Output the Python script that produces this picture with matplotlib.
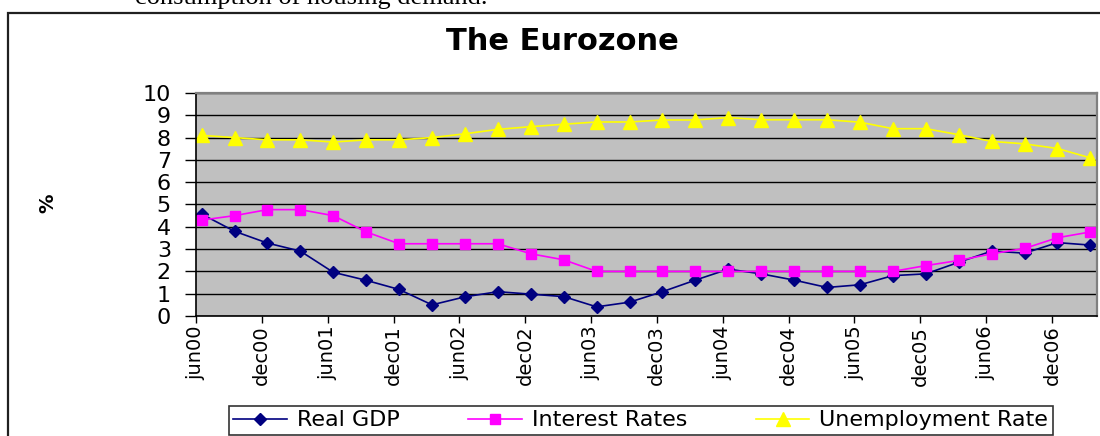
import matplotlib.pyplot as plt
import matplotlib.patches as mpatches
import numpy as np

# quarterly observations, jun00 .. mar07
real_gdp = [4.57, 3.8, 3.27, 2.91, 1.96, 1.6, 1.19, 0.5,
            0.86, 1.09, 0.98, 0.87, 0.41, 0.62, 1.09, 1.61,
            2.1, 1.89, 1.61, 1.28, 1.4, 1.81, 1.89, 2.41,
            2.91, 2.82, 3.29, 3.18]
interest_rates = [4.3, 4.5, 4.77, 4.77, 4.5, 3.77, 3.24, 3.24,
                  3.24, 3.24, 2.79, 2.52, 2.0, 2.0, 2.0, 2.0,
                  2.0, 2.0, 2.0, 2.0, 2.0, 2.0, 2.26, 2.49,
                  2.79, 3.03, 3.51, 3.77]
unemployment = [8.1, 8.0, 7.9, 7.9, 7.8, 7.9, 7.9, 8.0,
                8.17, 8.37, 8.49, 8.6, 8.7, 8.7, 8.79, 8.79,
                8.9, 8.8, 8.8, 8.8, 8.69, 8.4, 8.4, 8.13,
                7.83, 7.72, 7.51, 7.09]
tick_labels = ['jun00', 'dec00', 'jun01', 'dec01', 'jun02', 'dec02', 'jun03',
               'dec03', 'jun04', 'dec04', 'jun05', 'dec05', 'jun06', 'dec06']

fig = plt.figure(figsize=(11, 4.36), dpi=100)

# outer chart frame + cut-off document line above it
fig.patches.append(mpatches.Rectangle((8 / 1100, -0.2), 1.2, 1.2 - 13 / 436,
                                      transform=fig.transFigure, fill=False,
                                      edgecolor='#202020', linewidth=1.6))
fig.text(135 / 1100, 1 - 4 / 436, 'consumption of housing demand.',
         family='Liberation Serif', fontsize=19, va='baseline', ha='left')

ax = fig.add_axes([196 / 1100, 1 - 316 / 436, 901 / 1100, 223 / 436])
ax.set_facecolor('#C0C0C0')

x = np.arange(len(real_gdp))
ax.plot(x, real_gdp, color='#000080', marker='D', markersize=6, linewidth=1.2,
        label='Real GDP')
ax.plot(x, interest_rates, color='#FF00FF', marker='s', markersize=7,
        linewidth=1.2, label='Interest Rates')
ax.plot(x, unemployment, color='#FFFF00', marker='^', markersize=9.5,
        linewidth=1.2, label='Unemployment Rate')

ax.set_ylim(0, 10)
ax.set_yticks(range(0, 11))
ax.set_xlim(-0.17, 27.2)
ax.set_xticks([2 * k - 0.17 for k in range(len(tick_labels))])
ax.set_xticklabels(tick_labels, rotation=90, fontsize=14)
ax.tick_params(axis='y', direction='out', length=8, width=1, pad=10,
               labelsize=16)
ax.tick_params(axis='x', direction='out', length=5, width=1, pad=2)

ax.grid(axis='y', color='black', linewidth=1)
ax.set_axisbelow(True)
for s in ['top', 'right']:
    ax.spines[s].set_color('#808080')
    ax.spines[s].set_linewidth(1.6)
for s in ['left', 'bottom']:
    ax.spines[s].set_color('black')
    ax.spines[s].set_linewidth(1.2)

fig.text(562 / 1100, 1 - 42 / 436, 'The Eurozone', fontsize=22,
         fontweight='bold', ha='center', va='center')
fig.text(48 / 1100, 1 - 203 / 436, '%', fontsize=14, fontweight='bold',
         rotation=90, ha='center', va='center')

leg = fig.legend(loc='upper left', bbox_to_anchor=(229 / 1100, 1 - 406 / 436),
                 ncol=3, fontsize=16, frameon=True, fancybox=False,
                 edgecolor='black', handlelength=2.4, handletextpad=0.45,
                 columnspacing=3.1, borderpad=0.2, borderaxespad=0)
leg.get_frame().set_linewidth(1.2)

plt.savefig('out.png', dpi=100)
plt.close()
